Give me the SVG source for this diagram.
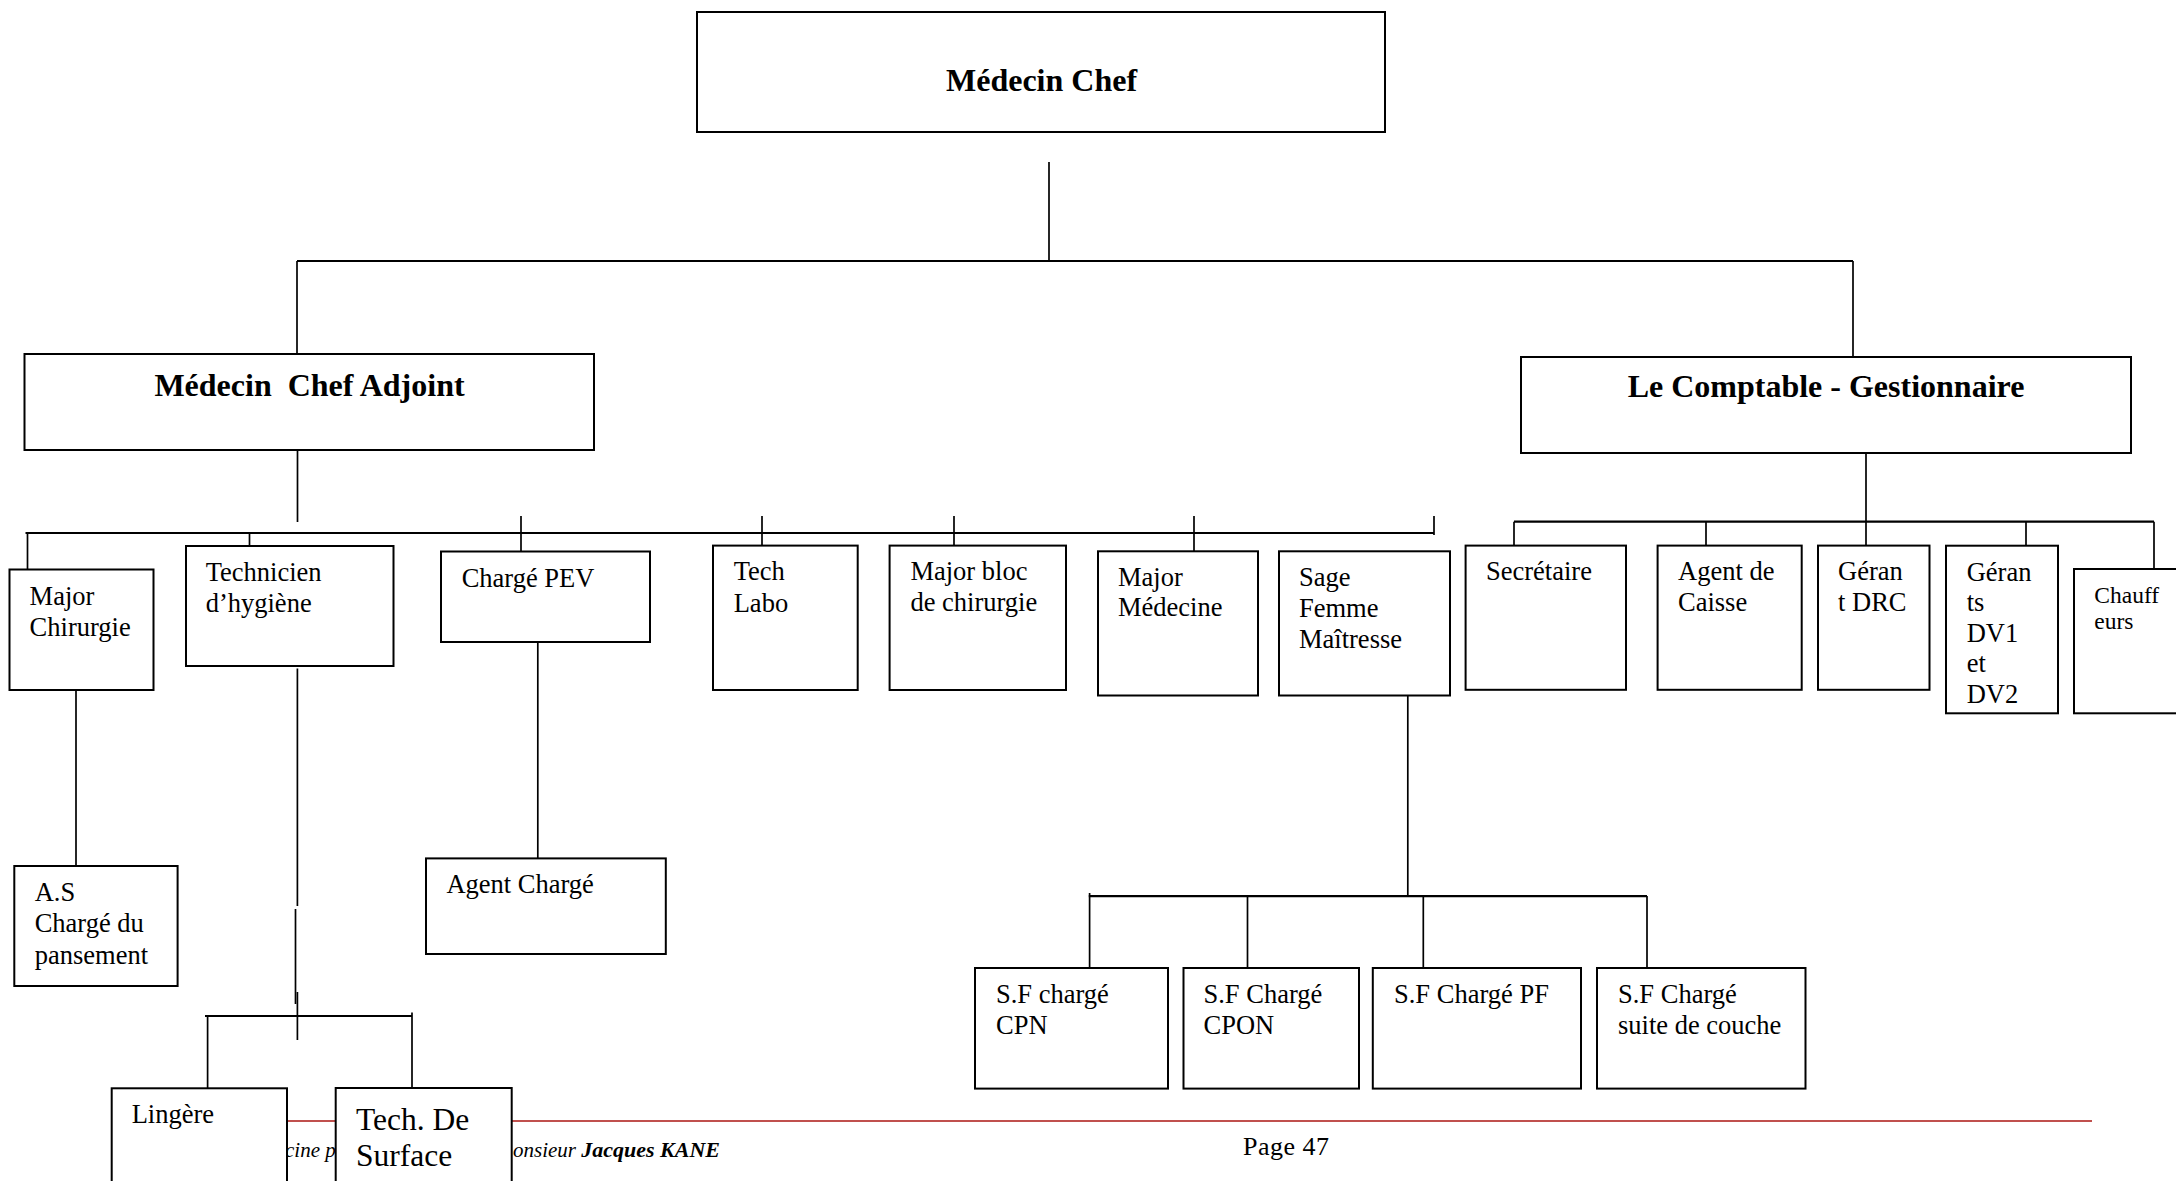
<svg xmlns="http://www.w3.org/2000/svg" width="2176" height="1181" viewBox="0 0 2176 1181">
<style>
  .box { fill: #ffffff; stroke: #000000; stroke-width: 2; }
  .ln { stroke: #000000; stroke-width: 1.7; fill: none; }
  .bar { stroke: #000000; stroke-width: 2.2; fill: none; }
  .t { font-family: "Liberation Serif", "Times New Roman", serif; font-size: 26.5px; fill: #000000; }
  .t-big { font-size: 31.5px; }
  .t-small { font-size: 23.5px; }
  .tb { font-family: "Liberation Serif", "Times New Roman", serif; font-size: 32px; font-weight: bold; fill: #000000; text-anchor: middle; white-space: pre; }
  .foot { font-family: "Liberation Serif", "Times New Roman", serif; font-size: 21px; font-style: italic; fill: #000000; }
</style>
<rect x="0" y="0" width="2176" height="1181" fill="#ffffff"/>

<g id="footer">
  <line x1="200" y1="1121" x2="2092" y2="1121" stroke="#c0504d" stroke-width="2"/>
  <text class="foot" x="285" y="1157">cine p</text>
  <text class="foot" x="513" y="1157">onsieur <tspan style="font-weight:bold;font-size:22px">Jacques KANE</tspan></text>
  <text x="1243" y="1155" font-family="Liberation Serif, serif" font-size="26px" fill="#000000" textLength="86">Page 47</text>
</g>

<g id="connectors">
  <line class="ln" x1="1049" y1="162" x2="1049" y2="261"/>
  <line class="bar" x1="297" y1="261" x2="1853" y2="261"/>
  <line class="ln" x1="297" y1="261" x2="297" y2="354"/>
  <line class="ln" x1="1853" y1="261" x2="1853" y2="357"/>
  <line class="ln" x1="297.5" y1="450" x2="297.5" y2="522"/>
  <line class="bar" x1="25.5" y1="533" x2="1434" y2="533"/>
  <line class="ln" x1="1434" y1="516" x2="1434" y2="535"/>
  <line class="ln" x1="27.5" y1="533" x2="27.5" y2="569.5"/>
  <line class="ln" x1="249.5" y1="533" x2="249.5" y2="546"/>
  <line class="ln" x1="521" y1="516" x2="521" y2="551"/>
  <line class="ln" x1="762" y1="516" x2="762" y2="545.6"/>
  <line class="ln" x1="954" y1="516" x2="954" y2="545.6"/>
  <line class="ln" x1="1194" y1="516" x2="1194" y2="551"/>
  <line class="ln" x1="1866" y1="449" x2="1866" y2="545.6"/>
  <line class="bar" x1="1514" y1="521.7" x2="2154" y2="521.7"/>
  <line class="ln" x1="1514" y1="521.7" x2="1514" y2="545.6"/>
  <line class="ln" x1="1706" y1="521.7" x2="1706" y2="545.6"/>
  <line class="ln" x1="2026" y1="521.7" x2="2026" y2="545.7"/>
  <line class="ln" x1="2154" y1="521.7" x2="2154" y2="569"/>
  <line class="ln" x1="76" y1="655.5" x2="76" y2="866"/>
  <line class="ln" x1="297.4" y1="668.5" x2="297.4" y2="906"/>
  <line class="ln" x1="295.5" y1="909" x2="295.5" y2="1004"/>
  <line class="ln" x1="297.4" y1="992" x2="297.4" y2="1040"/>
  <line class="bar" x1="205" y1="1016" x2="412" y2="1016"/>
  <line class="ln" x1="207.6" y1="1016" x2="207.6" y2="1088"/>
  <line class="ln" x1="412" y1="1012.6" x2="412" y2="1087.7"/>
  <line class="ln" x1="537.8" y1="631.6" x2="537.8" y2="858.4"/>
  <line class="ln" x1="1407.8" y1="679.4" x2="1407.8" y2="896.2"/>
  <line class="bar" x1="1088.8" y1="896.2" x2="1647" y2="896.2"/>
  <line class="ln" x1="1089.6" y1="893" x2="1089.6" y2="968"/>
  <line class="ln" x1="1247.5" y1="896" x2="1247.5" y2="968"/>
  <line class="ln" x1="1423.3" y1="896" x2="1423.3" y2="968"/>
  <line class="ln" x1="1647" y1="896" x2="1647" y2="968"/>
</g>

<g id="medecin-chef">
  <rect class="box" x="697" y="12" width="688" height="120"/>
  <text class="tb" x="1041.5" y="91">Médecin Chef</text>
</g>
<g id="medecin-chef-adjoint">
  <rect class="box" x="24.5" y="354" width="569.5" height="96"/>
  <text class="tb" x="309.5" y="396">Médecin  Chef Adjoint</text>
</g>
<g id="comptable-gestionnaire">
  <rect class="box" x="1521" y="357" width="610" height="96"/>
  <text class="tb" x="1826" y="397">Le Comptable - Gestionnaire</text>
</g>

<g id="major-chirurgie">
  <rect class="box" x="9.5" y="569.5" width="144" height="120.5"/>
  <text class="t" x="29.6" y="604.5">Major</text>
  <text class="t" x="29.6" y="635.5">Chirurgie</text>
</g>
<g id="technicien-hygiene">
  <rect class="box" x="186" y="546" width="207.5" height="120"/>
  <text class="t" x="205.7" y="581">Technicien</text>
  <text class="t" x="205.7" y="611.7">d’hygiène</text>
</g>
<g id="charge-pev">
  <rect class="box" x="441" y="551.5" width="209" height="90.5"/>
  <text class="t" x="461.7" y="587">Chargé PEV</text>
</g>
<g id="tech-labo">
  <rect class="box" x="713" y="545.6" width="144.7" height="144.4"/>
  <text class="t" x="733.7" y="580.4">Tech</text>
  <text class="t" x="733.7" y="611.6">Labo</text>
</g>
<g id="major-bloc">
  <rect class="box" x="889.6" y="545.6" width="176.4" height="144.4"/>
  <text class="t" x="910.4" y="580.4">Major bloc</text>
  <text class="t" x="910.4" y="611">de chirurgie</text>
</g>
<g id="major-medecine">
  <rect class="box" x="1098" y="551.3" width="160" height="144.2"/>
  <text class="t" x="1118" y="585.6">Major</text>
  <text class="t" x="1118" y="616">Médecine</text>
</g>
<g id="sage-femme">
  <rect class="box" x="1279" y="551.3" width="171" height="144.2"/>
  <text class="t" x="1299" y="585.6">Sage</text>
  <text class="t" x="1299" y="616.5">Femme</text>
  <text class="t" x="1299" y="647.5">Maîtresse</text>
</g>
<g id="secretaire">
  <rect class="box" x="1465.6" y="545.6" width="160.4" height="144.2"/>
  <text class="t" x="1486" y="580.4">Secrétaire</text>
</g>
<g id="agent-caisse">
  <rect class="box" x="1657.6" y="545.6" width="144.1" height="144.2"/>
  <text class="t" x="1678" y="580.4">Agent de</text>
  <text class="t" x="1678" y="611">Caisse</text>
</g>
<g id="gerant-drc">
  <rect class="box" x="1818" y="545.6" width="111.5" height="144.2"/>
  <text class="t" x="1838" y="580.4">Géran</text>
  <text class="t" x="1838" y="611">t DRC</text>
</g>
<g id="gerants-dv">
  <rect class="box" x="1946" y="545.7" width="112" height="167.6"/>
  <text class="t" x="1966.7" y="581">Géran</text>
  <text class="t" x="1966.7" y="611">ts</text>
  <text class="t" x="1966.7" y="641.5">DV1</text>
  <text class="t" x="1966.7" y="672">et</text>
  <text class="t" x="1966.7" y="702.5">DV2</text>
</g>
<g id="chauffeurs">
  <rect class="box" x="2074" y="569" width="120" height="144.3"/>
  <text class="t t-small" x="2094.3" y="602.7">Chauff</text>
  <text class="t t-small" x="2094.3" y="629.3">eurs</text>
</g>

<g id="as-pansement">
  <rect class="box" x="14.3" y="866" width="163.3" height="120"/>
  <text class="t" x="34.7" y="900.5">A.S</text>
  <text class="t" x="34.7" y="932">Chargé du</text>
  <text class="t" x="34.7" y="964">pansement</text>
</g>
<g id="agent-charge">
  <rect class="box" x="426" y="858.4" width="239.8" height="95.6"/>
  <text class="t" x="446.4" y="893">Agent Chargé</text>
</g>
<g id="sf-cpn">
  <rect class="box" x="975" y="968" width="193" height="120.6"/>
  <text class="t" x="996" y="1003">S.F chargé</text>
  <text class="t" x="996" y="1034">CPN</text>
</g>
<g id="sf-cpon">
  <rect class="box" x="1183.5" y="968" width="175.5" height="120.6"/>
  <text class="t" x="1203.5" y="1003">S.F Chargé</text>
  <text class="t" x="1203.5" y="1034">CPON</text>
</g>
<g id="sf-pf">
  <rect class="box" x="1372.8" y="968" width="208.2" height="120.6"/>
  <text class="t" x="1394" y="1003">S.F Chargé PF</text>
</g>
<g id="sf-suite-couche">
  <rect class="box" x="1597" y="968" width="208.5" height="120.6"/>
  <text class="t" x="1618" y="1003">S.F Chargé</text>
  <text class="t" x="1618" y="1034">suite de couche</text>
</g>
<g id="lingere">
  <rect class="box" x="111.7" y="1088.3" width="175.3" height="110"/>
  <text class="t" x="131.7" y="1123.3">Lingère</text>
</g>
<g id="tech-surface">
  <rect class="box" x="335.7" y="1088" width="176" height="110"/>
  <text class="t t-big" x="356" y="1130">Tech. De</text>
  <text class="t t-big" x="356" y="1166">Surface</text>
</g>
</svg>
